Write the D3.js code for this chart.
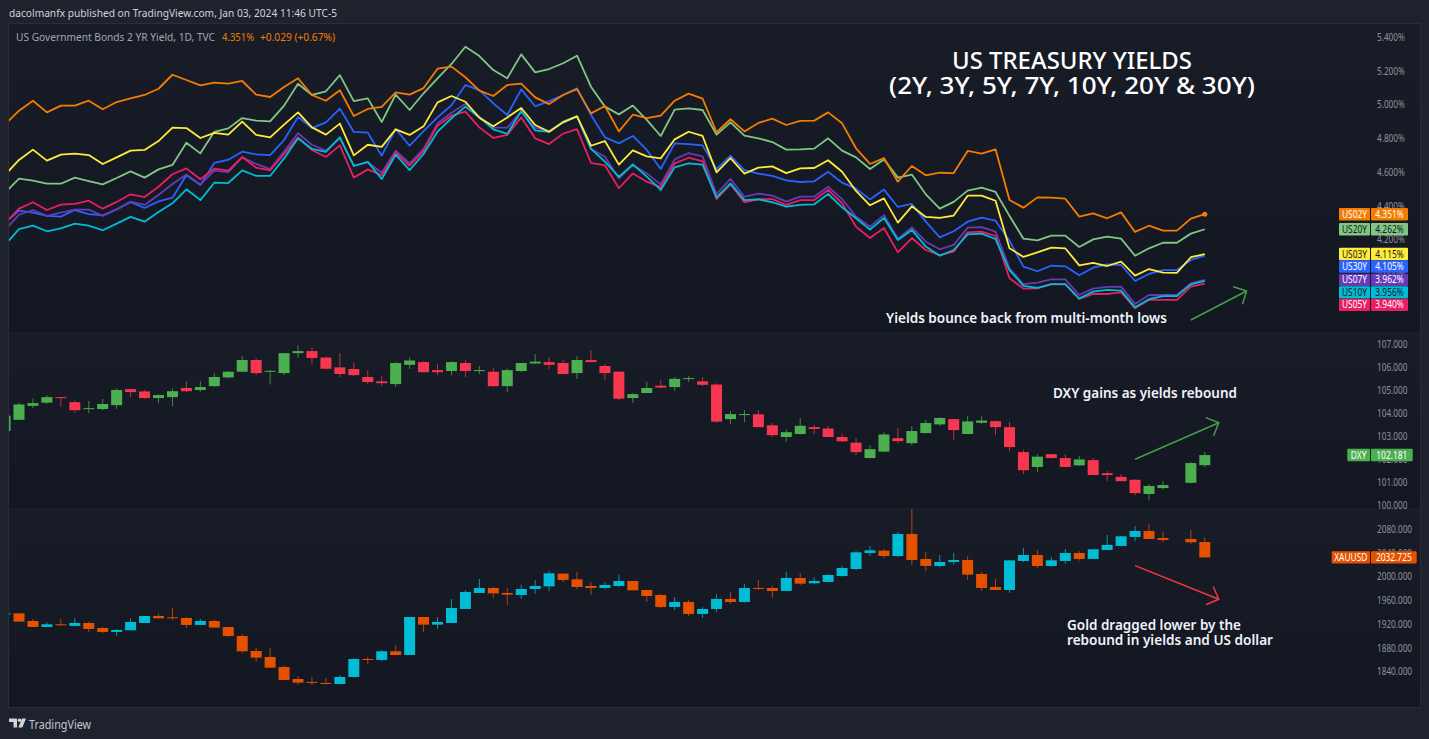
<!DOCTYPE html>
<html>
<head>
<meta charset="utf-8">
<title>US Treasury Yields</title>
<script src="https://cdn.jsdelivr.net/npm/d3@7"></script>
<style>
  html, body { margin: 0; padding: 0; background: #1e222d; overflow: hidden; }
  svg { display: block; }
  text { font-family: "Noto Sans", "Open Sans", sans-serif; }
  .axis text { fill: #8f929c; font-size: 10px; }
</style>
</head>
<body>
<div id="chart-area"><svg></svg></div>
<script>
// Daily bars from Sep 4 2023 to Jan 3 2024, first bar is cut by the pane edge
const firstBar = -1;

const us02y = [4.884,4.965,5.024,4.955,4.995,4.995,5.024,4.973,5.016,5.038,5.058,5.095,5.178,5.147,5.115,5.131,5.125,5.141,5.060,5.046,5.105,5.157,5.058,5.024,5.086,4.933,4.975,4.987,5.074,5.060,5.099,5.214,5.226,5.163,
  5.084,5.052,5.117,5.125,5.044,5.004,5.058,5.093,4.949,4.993,4.842,4.941,4.921,4.935,5.024,5.066,5.036,4.837,4.914,4.842,4.892,4.918,4.880,4.904,4.906,4.955,4.890,4.742,4.649,4.684,4.544,4.637,4.582,4.597,
  4.595,4.726,4.710,4.736,4.435,4.390,4.451,4.449,4.443,4.337,4.356,4.327,4.362,4.246,4.283,4.254,4.254,4.325,4.351];
const us20y = [4.479,4.562,4.550,4.532,4.532,4.568,4.548,4.528,4.566,4.605,4.568,4.617,4.643,4.775,4.712,4.840,4.860,4.921,4.906,4.902,4.995,5.125,5.058,5.080,5.176,5.022,5.038,4.898,5.060,4.969,5.068,5.157,5.242,5.344,
  5.289,5.206,5.157,5.299,5.192,5.212,5.246,5.291,5.107,4.989,4.943,4.995,4.910,4.815,4.971,4.979,4.969,4.823,4.896,4.817,4.801,4.779,4.734,4.736,4.740,4.801,4.728,4.688,4.619,4.676,4.568,4.586,4.469,4.384,
  4.424,4.491,4.509,4.483,4.341,4.206,4.196,4.224,4.224,4.157,4.202,4.218,4.206,4.105,4.149,4.182,4.182,4.236,4.262];
const us03y = [4.584,4.673,4.734,4.669,4.704,4.710,4.702,4.649,4.688,4.728,4.732,4.785,4.864,4.862,4.803,4.833,4.823,4.900,4.821,4.807,4.882,4.955,4.866,4.823,4.888,4.700,4.763,4.750,4.854,4.821,4.872,5.014,5.052,5.018,
  4.923,4.872,4.925,4.981,4.880,4.840,4.896,4.931,4.757,4.785,4.645,4.730,4.694,4.682,4.795,4.840,4.815,4.599,4.684,4.592,4.627,4.635,4.595,4.623,4.625,4.671,4.603,4.489,4.404,4.445,4.301,4.398,4.335,4.329,
  4.343,4.461,4.461,4.431,4.149,4.098,4.125,4.153,4.149,4.048,4.062,4.044,4.070,3.987,4.026,4.005,4.003,4.096,4.115];
const us30y = [4.301,4.372,4.360,4.341,4.337,4.376,4.352,4.345,4.380,4.422,4.388,4.427,4.449,4.582,4.524,4.655,4.674,4.722,4.706,4.702,4.791,4.927,4.862,4.896,4.977,4.839,4.835,4.698,4.856,4.757,4.844,4.925,4.997,5.117,
  5.087,5.008,4.939,5.091,4.991,5.022,5.058,5.097,4.939,4.807,4.771,4.815,4.732,4.619,4.771,4.767,4.759,4.619,4.698,4.613,4.592,4.578,4.552,4.542,4.546,4.603,4.538,4.503,4.439,4.497,4.394,4.412,4.307,4.214,
  4.250,4.307,4.331,4.313,4.194,4.040,4.013,4.046,4.042,3.989,4.034,4.054,4.050,3.955,3.997,4.020,4.020,4.080,4.105];
const us07y = [4.258,4.348,4.376,4.341,4.360,4.378,4.378,4.341,4.380,4.426,4.406,4.465,4.530,4.586,4.528,4.609,4.601,4.688,4.649,4.619,4.722,4.831,4.763,4.728,4.801,4.639,4.659,4.597,4.728,4.653,4.738,4.890,4.953,5.006,
  4.929,4.864,4.864,4.959,4.864,4.844,4.896,4.931,4.738,4.692,4.564,4.643,4.593,4.528,4.676,4.714,4.694,4.471,4.560,4.455,4.473,4.461,4.426,4.455,4.455,4.514,4.441,4.337,4.277,4.346,4.206,4.273,4.188,4.143,
  4.169,4.271,4.275,4.248,4.030,3.937,3.945,3.965,3.965,3.872,3.910,3.920,3.922,3.819,3.872,3.872,3.872,3.941,3.962];
const us10y = [4.169,4.263,4.283,4.250,4.267,4.295,4.283,4.256,4.295,4.335,4.307,4.364,4.416,4.499,4.435,4.538,4.536,4.611,4.578,4.578,4.682,4.801,4.738,4.720,4.807,4.637,4.661,4.560,4.704,4.613,4.708,4.840,4.920,4.989,
  4.925,4.854,4.827,4.963,4.848,4.839,4.900,4.933,4.738,4.663,4.572,4.647,4.574,4.495,4.629,4.653,4.645,4.451,4.534,4.435,4.439,4.422,4.396,4.406,4.410,4.471,4.392,4.327,4.260,4.329,4.198,4.258,4.159,4.105,
  4.139,4.232,4.236,4.204,4.020,3.926,3.914,3.937,3.937,3.851,3.892,3.902,3.898,3.799,3.847,3.866,3.866,3.935,3.956];
const us05y = [4.297,4.384,4.422,4.376,4.408,4.412,4.431,4.384,4.424,4.469,4.453,4.514,4.588,4.623,4.558,4.621,4.609,4.690,4.627,4.611,4.708,4.807,4.732,4.690,4.759,4.568,4.617,4.582,4.716,4.639,4.726,4.876,4.935,4.959,
  4.866,4.803,4.821,4.925,4.801,4.767,4.829,4.856,4.655,4.641,4.505,4.593,4.544,4.512,4.653,4.686,4.665,4.441,4.528,4.422,4.441,4.441,4.406,4.435,4.435,4.495,4.416,4.277,4.210,4.269,4.125,4.210,4.139,4.109,
  4.129,4.244,4.248,4.222,3.971,3.910,3.912,3.937,3.935,3.849,3.878,3.878,3.888,3.793,3.843,3.843,3.843,3.922,3.940];

const dxyOpen = [103.23,103.72,104.33,104.47,104.71,104.49,104.20,104.19,104.36,105.06,104.96,104.67,104.71,105.11,105.02,105.19,105.57,105.82,106.33,105.83,105.76,106.63,106.72,106.44,106.01,105.94,105.59,105.40,105.28,106.12,106.24,105.89,105.85,106.20,
  105.86,105.82,105.19,105.85,106.18,106.24,106.20,105.76,106.33,106.07,105.82,104.67,104.89,105.21,105.15,105.50,105.40,105.26,103.75,103.93,103.96,103.48,102.97,103.10,103.40,103.34,102.97,102.72,102.05,102.33,102.92,102.70,103.14,103.52,
  103.75,103.10,103.59,103.66,103.40,102.31,101.66,102.22,102.05,101.73,101.96,101.39,101.23,101.10,100.48,100.74,null,100.97,101.74];
const dxyHigh = [103.90,104.48,104.65,104.80,104.71,104.57,104.54,104.63,105.09,105.06,105.02,104.83,105.09,105.40,105.41,105.76,105.85,106.50,106.42,105.89,106.63,106.98,106.87,106.47,106.63,106.24,105.89,105.63,106.24,106.44,106.28,106.15,106.28,106.33,
  106.07,105.98,105.96,106.20,106.59,106.46,106.33,106.50,106.76,106.15,105.85,104.89,105.38,105.45,105.59,105.63,105.59,105.31,104.10,104.14,104.14,103.58,103.29,103.80,103.49,103.45,103.10,102.92,102.62,103.18,103.36,103.45,103.71,103.84,
  103.75,103.88,103.88,103.69,103.62,102.40,102.22,102.22,102.22,102.14,102.05,101.48,101.35,101.13,100.91,101.04,null,101.87,102.31];
const dxyLow = [103.23,103.72,104.22,104.42,104.28,104.03,104.01,104.14,104.19,104.71,104.64,104.44,104.32,104.93,104.95,105.15,105.53,105.82,105.67,105.26,105.67,106.42,106.15,105.95,105.59,105.63,105.28,105.19,105.15,105.94,105.80,105.67,105.67,105.59,
  105.72,105.15,104.93,105.80,106.15,105.94,105.72,105.50,106.24,105.45,104.57,104.45,104.89,105.09,105.00,105.37,105.19,103.58,103.53,103.62,103.40,102.97,102.76,103.07,103.10,102.97,102.75,102.18,102.05,102.31,102.70,102.62,103.14,103.45,
  102.84,103.10,103.55,103.05,102.34,101.35,101.44,102.02,101.66,101.71,101.31,101.04,101.04,100.43,100.21,100.68,null,100.94,101.66];
const dxyClose = [103.90,104.39,104.45,104.71,104.68,104.14,104.23,104.41,105.02,104.93,104.67,104.80,104.97,104.97,105.15,105.59,105.82,106.33,105.76,105.86,106.63,106.72,106.42,105.95,105.72,105.67,105.37,105.32,106.20,106.31,105.80,105.80,106.24,105.85,
  105.89,105.19,105.89,106.20,106.26,106.12,105.72,106.33,106.24,105.76,104.64,104.84,105.11,105.13,105.51,105.54,105.25,103.64,103.97,103.97,103.40,103.05,103.18,103.46,103.32,102.97,102.78,102.31,102.44,103.08,102.79,103.23,103.58,103.80,
  103.27,103.65,103.69,103.40,102.53,101.52,102.11,102.05,101.66,101.99,101.31,101.31,101.04,100.52,100.83,100.87,null,101.83,102.18];

const goldOpen = [1937.9,1938.4,1925.5,1915.4,1919.9,1917.1,1922.1,1913.7,1907.0,1909.8,1922.1,1933.9,1931.7,1930.5,1918.8,1925.5,1915.4,1900.2,1874.9,1864.8,1848.0,1827.7,1822.7,1821.0,1819.3,1831.1,1861.4,1859.8,1874.4,1868.2,1932.2,1919.3,1922.1,1945.7,
  1972.7,1981.1,1972.7,1969.3,1979.4,1983.9,2005.3,1995.7,1984.5,1981.1,1984.5,1992.9,1977.7,1969.3,1949.1,1957.5,1937.3,1945.7,1962.6,1957.5,1981.1,1981.1,1976.1,1998.0,1989.0,1991.2,2001.3,2013.1,2040.1,2044.0,2035.0,2072.1,2030.0,2018.2,
  2024.9,2028.3,2004.7,1982.8,1977.7,2026.6,2036.7,2018.2,2026.6,2040.1,2030.0,2045.2,2051.9,2067.1,2077.2,2065.4,null,2063.7,2058.6];
const goldHigh = [1938.6,1938.4,1928.9,1923.2,1928.9,1930.5,1924.4,1915.4,1912.0,1930.5,1933.9,1937.3,1947.4,1932.2,1928.9,1927.2,1915.4,1903.0,1880.0,1880.0,1849.7,1832.8,1831.1,1829.4,1834.5,1863.1,1864.8,1876.6,1885.0,1932.2,1932.2,1932.2,1962.6,1977.7,
  1996.3,1982.8,1981.1,1986.7,1994.6,2009.8,2005.3,2008.1,1991.2,1991.2,2003.6,1992.9,1977.7,1971.0,1965.9,1960.9,1949.1,1971.0,1974.4,1987.9,1994.6,1984.5,2008.1,2006.4,1999.1,2004.7,2018.2,2043.5,2051.9,2046.8,2075.5,2114.3,2041.8,2036.7,
  2040.1,2034.5,2008.1,1996.3,2028.3,2048.5,2045.2,2033.4,2046.8,2043.5,2046.8,2070.4,2068.8,2085.6,2089.0,2075.5,null,2078.9,2066.5];
const goldLow = [1937.9,1924.4,1915.4,1915.4,1917.6,1917.1,1907.0,1905.3,1900.2,1909.8,1922.1,1930.0,1927.2,1913.7,1918.8,1914.3,1898.5,1871.6,1857.0,1846.3,1826.1,1817.6,1817.6,1818.8,1819.3,1830.0,1853.0,1858.1,1868.2,1868.2,1907.0,1912.0,1922.1,1945.7,
  1972.7,1964.3,1952.5,1962.6,1971.6,1976.1,1991.2,1978.9,1969.3,1978.9,1982.8,1977.2,1957.5,1947.4,1944.0,1933.9,1930.5,1940.7,1954.7,1956.4,1977.7,1964.3,1976.1,1986.2,1987.9,1991.2,2000.2,2011.4,2035.0,2031.7,2033.4,2019.9,2009.8,2016.5,
  2019.9,1994.6,1976.1,1977.7,1972.7,2024.9,2014.8,2017.1,2021.6,2027.2,2030.0,2045.2,2051.9,2060.3,2063.7,2058.1,null,2055.3,2031.7];
const goldClose = [1938.4,1924.4,1915.4,1919.9,1918.8,1922.1,1912.0,1907.0,1910.3,1923.8,1933.9,1930.0,1930.5,1918.8,1925.5,1914.3,1900.2,1874.4,1863.7,1846.8,1826.1,1821.6,1821.0,1819.3,1831.1,1861.4,1859.8,1874.4,1868.2,1932.2,1919.3,1923.8,1947.4,1974.4,
  1981.1,1972.1,1969.9,1979.4,1984.5,2005.8,1994.6,1982.8,1981.1,1986.2,1992.9,1977.2,1967.6,1949.1,1957.5,1937.3,1945.7,1962.6,1957.5,1981.1,1979.4,1976.1,1998.0,1988.4,1992.9,2003.0,2014.8,2041.2,2044.6,2035.0,2072.1,2028.3,2018.2,2024.9,
  2028.3,2003.6,1981.1,1977.7,2027.7,2036.7,2018.2,2027.7,2040.1,2030.0,2046.3,2053.6,2068.2,2077.2,2063.7,2062.0,null,2058.1,2032.7];

// Axis labels
const timeTickBars = [-1, 4, 9, 14, 19, 24, 29, 34, 41, 49, 54, 63, 69, 74, 83, 88, 93];
const timeTickLabels = ["Sep", "11", "18", "25", "Oct", "9", "16", "23", "Nov", "13", "20", "Dec", "11", "18", "2024", "8", "15"];
const yieldTicks = [5.4, 5.2, 5.0, 4.8, 4.6, 4.4, 4.2, 4.0, 3.8];
const dxyTicks = [107, 106, 105, 104, 103, 102, 101, 100];
const goldTicks = [2080, 2040, 2000, 1960, 1920, 1880, 1840];

// Yield series: name, values, colour, colour of the label text
const yieldNames = ["US30Y", "US20Y", "US07Y", "US05Y", "US10Y", "US03Y", "US02Y"];
const yieldValues = [us30y, us20y, us07y, us05y, us10y, us03y, us02y];
const yieldColors = ["#2962ff", "#81c784", "#673ab7", "#e91e63", "#00bcd4", "#ffeb3b", "#f57c00"];
const yieldInk = ["#ffffff", "#131722", "#ffffff", "#ffffff", "#131722", "#131722", "#ffffff"];

const width = 1429;
const height = 739;
const chartLeft = 9, chartRight = 1420, chartTop = 24, chartBottom = 707;
const axisX = 1377;
const pane1Bottom = 333, pane2Bottom = 509;

const svg = d3.select("#chart-area").select("svg").attr("width", width).attr("height", height);
const defs = svg.append("defs");

// Same time scale for all three panes
const x = d3.scaleLinear().domain([0, 85]).range([19, 1204.8]);
const yYield = d3.scaleLinear().domain([4.2, 5.4]).range([239.7, 37.3]);
const yDxy = d3.scaleLinear().domain([100, 107]).range([505, 344.7]);
const yGold = d3.scaleLinear().domain([1840, 2080]).range([671.7, 529.3]);

// Squeeze Noto glyphs to the narrower width of the chart's own font
function squeeze(sel, k) {
    sel.each(function () {
        this.setAttribute("textLength", this.getComputedTextLength() * k);
        this.setAttribute("lengthAdjust", "spacingAndGlyphs");
    });
}
// Same, for a text with a known width in pixels
function fitText(sel, w) {
    sel.attr("textLength", w).attr("lengthAdjust", "spacingAndGlyphs");
}

// Pane backgrounds
const grad = defs.append("linearGradient").attr("id", "paneFill").attr("x1", 0).attr("x2", 0).attr("y1", 0).attr("y2", 1);
grad.append("stop").attr("offset", 0).attr("stop-color", "#181c27");
grad.append("stop").attr("offset", 1).attr("stop-color", "#131722");

const panes = [[chartTop, pane1Bottom], [pane1Bottom, pane2Bottom], [pane2Bottom, chartBottom]];
panes.forEach((p, k) => {
    svg.append("rect").attr("x", chartLeft).attr("y", p[0])
        .attr("width", chartRight - chartLeft).attr("height", p[1] - p[0])
        .attr("fill", "url(#paneFill)");
    defs.append("clipPath").attr("id", `clip${k}`).append("rect")
        .attr("x", chartLeft).attr("y", p[0])
        .attr("width", chartRight - chartLeft).attr("height", p[1] - p[0]);
});
[pane1Bottom, pane2Bottom].forEach(yy => {
    svg.append("line").attr("x1", chartLeft).attr("x2", chartRight).attr("y1", yy).attr("y2", yy)
        .attr("stroke", "#23262f").attr("stroke-width", 1);
});
svg.append("rect").attr("x", chartLeft - 0.5).attr("y", chartTop - 0.5)
    .attr("width", chartRight - chartLeft + 1).attr("height", chartBottom - chartTop + 1)
    .attr("fill", "none").attr("stroke", "#2a2e39");

// Price axes
function priceAxis(scale, ticks, fmt) {
    svg.append("g").attr("class", "axis").attr("transform", `translate(${axisX},0)`)
        .call(d3.axisRight(scale).tickValues(ticks).tickSize(0).tickPadding(0).tickFormat(fmt))
        .call(g => g.select(".domain").remove())
        .call(g => squeeze(g.selectAll("text"), 0.82));
}
priceAxis(yYield, yieldTicks, d => d3.format(".3f")(d) + "%");
priceAxis(yDxy, dxyTicks, d3.format(".3f"));
priceAxis(yGold, goldTicks, d3.format(".3f"));

// Time axis
svg.append("g").attr("class", "axis").attr("clip-path", "url(#clip2)")
    .attr("transform", "translate(0,691)")
    .call(d3.axisBottom(x).tickValues(timeTickBars).tickSize(0).tickPadding(0)
        .tickFormat(d => timeTickLabels[timeTickBars.indexOf(d)]))
    .call(g => g.select(".domain").remove())
    .call(g => g.selectAll("text").filter(d => d === 83).style("font-weight", 600).style("fill", "#b2b5be"))
    .call(g => squeeze(g.selectAll("text"), 0.85));

// Yield lines
const yieldPane = svg.append("g").attr("clip-path", "url(#clip0)");
const line = d3.line().x((d, i) => x(i + firstBar)).y(d => yYield(d));
yieldPane.selectAll("path").data(yieldValues).enter().append("path")
    .attr("d", line)
    .attr("fill", "none")
    .attr("stroke", (d, i) => yieldColors[i])
    .attr("stroke-width", 1.8)
    .attr("stroke-linejoin", "round");
yieldPane.append("circle")
    .attr("cx", x(us02y.length - 1 + firstBar))
    .attr("cy", yYield(us02y[us02y.length - 1]))
    .attr("r", 2.5)
    .attr("fill", "#f57c00");

// Candles for the two lower panes
function drawCandles(clipId, scale, opens, highs, lows, closes, upColor, downColor) {
    const g = svg.append("g").attr("clip-path", `url(#${clipId})`);
    const bars = opens.map((o, i) => ({ i: i + firstBar, o, h: highs[i], l: lows[i], c: closes[i] }))
        .filter(d => d.o !== null);
    const color = d => d.c >= d.o ? upColor : downColor;
    g.selectAll("line").data(bars).enter().append("line")
        .attr("x1", d => x(d.i)).attr("x2", d => x(d.i))
        .attr("y1", d => scale(d.h)).attr("y2", d => scale(d.l))
        .attr("stroke", color).attr("stroke-opacity", 0.75);
    g.selectAll("rect").data(bars).enter().append("rect")
        .attr("x", d => x(d.i) - 5.5).attr("width", 11)
        .attr("y", d => scale(Math.max(d.o, d.c)))
        .attr("height", d => Math.max(1, Math.abs(scale(d.o) - scale(d.c))))
        .attr("fill", color);
}
drawCandles("clip1", yDxy, dxyOpen, dxyHigh, dxyLow, dxyClose, "#4caf50", "#f7374f");
drawCandles("clip2", yGold, goldOpen, goldHigh, goldLow, goldClose, "#00bcd4", "#e65100");

// Price labels on the right, stacked when they would overlap
function priceLabel(name, value, fill, ink, cy, leftX, rightX) {
    const h = 12.4, g = svg.append("g");
    g.append("rect").attr("x", leftX).attr("y", cy - h / 2).attr("width", 1370 - leftX).attr("height", h).attr("rx", 1).attr("fill", fill);
    g.append("rect").attr("x", 1371).attr("y", cy - h / 2).attr("width", rightX - 1371).attr("height", h).attr("rx", 1).attr("fill", fill);
    g.append("text").attr("x", (leftX + 1370) / 2).attr("y", cy + 3.5).attr("text-anchor", "middle")
        .attr("font-size", 10).attr("fill", ink).text(name).call(squeeze, 0.84);
    g.append("text").attr("x", (rightX + 1371) / 2).attr("y", cy + 3.5).attr("text-anchor", "middle")
        .attr("font-size", 10).attr("fill", ink).text(value).call(squeeze, 0.84);
}
const labelOrder = d3.range(yieldNames.length)
    .sort((a, b) => d3.descending(yieldValues[a][86], yieldValues[b][86]));
let lastY = -Infinity;
labelOrder.forEach(k => {
    const cy = Math.max(yYield(yieldValues[k][86]), lastY + 12.5);
    lastY = cy;
    priceLabel(yieldNames[k], d3.format(".3f")(yieldValues[k][86]) + "%", yieldColors[k], yieldInk[k], cy, 1339, 1408);
});
priceLabel("DXY", "102.181", "#4caf50", "#ffffff", yDxy(102.181), 1347.3, 1412.7);
priceLabel("XAUUSD", "2032.725", "#e65100", "#ffffff", yGold(2032.725), 1331.7, 1416.7);

// Header and legend
svg.append("text").attr("x", 9).attr("y", 17).attr("font-size", 11.5).attr("fill", "#d1d4dc")
    .text("dacolmanfx published on TradingView.com, Jan 03, 2024 11:46 UTC-5").call(fitText, 328);
svg.append("text").attr("x", 16).attr("y", 41).attr("font-size", 10.5).attr("fill", "#a3a6af")
    .text("US Government Bonds 2 YR Yield, 1D, TVC").call(fitText, 199);
svg.append("text").attr("x", 222).attr("y", 41).attr("font-size", 10.5).attr("fill", "#f57c00")
    .text("4.351%").call(fitText, 32);
svg.append("text").attr("x", 260).attr("y", 41).attr("font-size", 10.5).attr("fill", "#f57c00")
    .text("+0.029 (+0.67%)").call(fitText, 75);

// Annotations
const titleLines = ["US TREASURY YIELDS", "(2Y, 3Y, 5Y, 7Y, 10Y, 20Y & 30Y)"];
const titleWidths = [240, 366];
svg.selectAll(".title").data(titleLines).enter().append("text").attr("class", "title")
    .attr("x", (d, i) => 1072 - titleWidths[i] / 2).attr("y", (d, i) => 69 + i * 24.5)
    .attr("font-size", 24).attr("font-weight", 500)
    .attr("fill", "#ffffff").text(d => d)
    .attr("textLength", (d, i) => titleWidths[i]).attr("lengthAdjust", "spacingAndGlyphs");

const notes = [
    { t: "Yields bounce back from multi-month lows", x: 886, y: 323, w: 281 },
    { t: "DXY gains as yields rebound", x: 1053, y: 398, w: 184 },
    { t: "Gold dragged lower by the", x: 1067, y: 630, w: 174 },
    { t: "rebound in yields and US dollar", x: 1067, y: 645, w: 206 }
];
svg.selectAll(".note").data(notes).enter().append("text").attr("class", "note")
    .attr("x", d => d.x).attr("y", d => d.y)
    .attr("font-size", 13.5).attr("font-weight", 600).attr("fill", "#f0f3fa").text(d => d.t)
    .attr("textLength", d => d.w).attr("lengthAdjust", "spacingAndGlyphs");

function arrow(scale, b0, v0, b1, v1, color) {
    const x0 = x(b0), y0 = scale(v0), x1 = x(b1), y1 = scale(v1);
    const a = Math.atan2(y0 - y1, x0 - x1), arm = 14, spread = Math.PI / 4;
    const head = [a - spread, a + spread].map(t => [x1 + arm * Math.cos(t), y1 + arm * Math.sin(t)]);
    svg.append("path")
        .attr("d", `M${x0},${y0}L${x1},${y1}M${head[0]}L${x1},${y1}L${head[1]}`)
        .attr("fill", "none").attr("stroke", color).attr("stroke-width", 1.5);
}
arrow(yYield, 84, 3.724, 88, 3.896, "#43a047");
arrow(yDxy, 80, 102.0, 86, 103.59, "#43a047");
arrow(yGold, 80, 2018.8, 86, 1962, "#f23645");

// TradingView mark
const logo = svg.append("g").attr("fill", "#d1d4dc");
logo.append("path").attr("d", "M9 718.5H17V727.5H13.5V722H9Z");
logo.append("circle").attr("cx", 19.5).attr("cy", 720.3).attr("r", 1.8);
logo.append("path").attr("d", "M22 718.5H26L22.3 727.5H18.3Z");
svg.append("text").attr("x", 29).attr("y", 728.5).attr("font-size", 12.5)
    .attr("fill", "#c3c6ce").text("TradingView").call(fitText, 62);
</script>
</body>
</html>
